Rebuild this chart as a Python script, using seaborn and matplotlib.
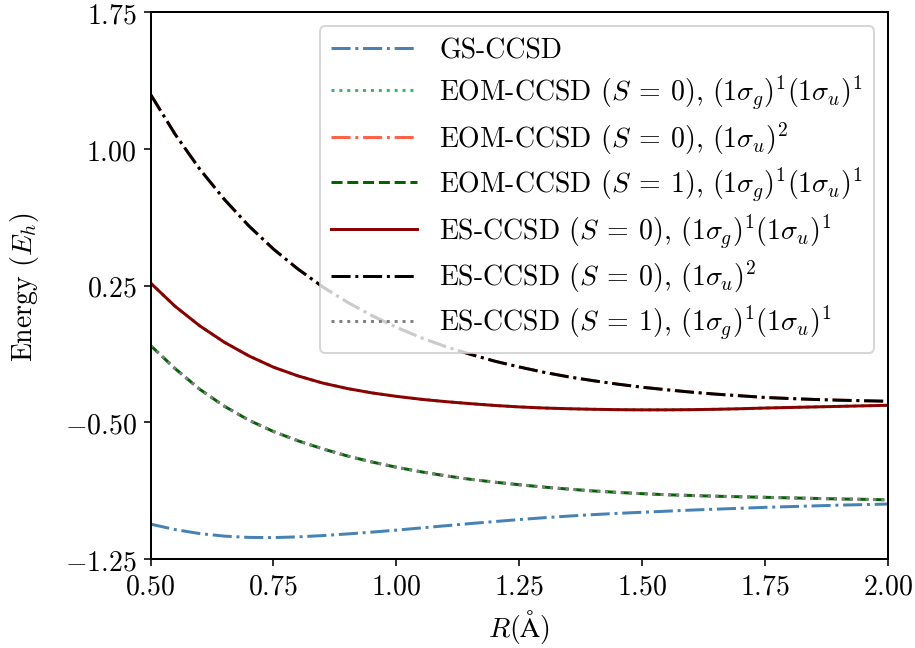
import numpy as np
import pandas as pd
import matplotlib
matplotlib.use("Agg")
import matplotlib.pyplot as plt
import seaborn as sns

# ── Data ──────────────────────────────────────────────────────────────────────
R = [0.50, 0.55, 0.60, 0.65, 0.70, 0.75, 0.80, 0.85, 0.90, 0.95,
     1.00, 1.05, 1.10, 1.15, 1.20, 1.25, 1.30, 1.35, 1.40, 1.45,
     1.50, 1.55, 1.60, 1.65, 1.70, 1.75, 1.80, 1.85, 1.90, 1.95, 2.00]

gs_ccsd = [-1.058, -1.088, -1.110, -1.124, -1.131, -1.132, -1.128, -1.121, -1.112, -1.102,
           -1.091, -1.079, -1.067, -1.055, -1.044, -1.033, -1.023, -1.014, -1.006, -0.999,
           -0.993, -0.987, -0.981, -0.976, -0.971, -0.966, -0.962, -0.958, -0.954, -0.951, -0.948]

es_s0_gu = [0.265, 0.137, 0.030, -0.060, -0.135, -0.197, -0.245, -0.284, -0.314, -0.338,
            -0.357, -0.373, -0.386, -0.397, -0.407, -0.415, -0.421, -0.425, -0.428, -0.430,
            -0.431, -0.431, -0.430, -0.428, -0.425, -0.421, -0.418, -0.415, -0.412, -0.409, -0.406]

es_s0_uu = [1.300, 1.081, 0.890, 0.724, 0.578, 0.451, 0.341, 0.244, 0.160, 0.086,
            0.022, -0.035, -0.084, -0.126, -0.164, -0.196, -0.225, -0.250, -0.271, -0.290,
            -0.307, -0.321, -0.334, -0.345, -0.354, -0.363, -0.369, -0.374, -0.378, -0.381, -0.384]

es_s1_gu = [-0.078, -0.205, -0.318, -0.411, -0.488, -0.550, -0.601, -0.645, -0.684, -0.717,
            -0.746, -0.771, -0.793, -0.812, -0.828, -0.842, -0.855, -0.866, -0.876, -0.884,
            -0.891, -0.897, -0.901, -0.905, -0.908, -0.911, -0.914, -0.917, -0.920, -0.922, -0.925]

# EOM curves lie underneath the ES curves in the picture
eom_s0_gu = list(es_s0_gu)
eom_s0_uu = list(es_s0_uu)
eom_s1_gu = list(es_s1_gu)

LABELS = [
    r"GS-CCSD",
    r"EOM-CCSD ($S\:=\:0$), $(1\sigma_g)^1(1\sigma_u)^1$",
    r"EOM-CCSD ($S\:=\:0$), $(1\sigma_u)^2$",
    r"EOM-CCSD ($S\:=\:1$), $(1\sigma_g)^1(1\sigma_u)^1$",
    r"ES-CCSD ($S\:=\:0$), $(1\sigma_g)^1(1\sigma_u)^1$",
    r"ES-CCSD ($S\:=\:0$), $(1\sigma_u)^2$",
    r"ES-CCSD ($S\:=\:1$), $(1\sigma_g)^1(1\sigma_u)^1$",
]
SERIES = [gs_ccsd, eom_s0_gu, eom_s0_uu, eom_s1_gu, es_s0_gu, es_s0_uu, es_s1_gu]
COLORS = ["steelblue", "mediumseagreen", "tomato", "darkgreen", "darkred", "black", "grey"]
STYLES = ["-.", ":", "-.", "--", "-", "-.", ":"]

# ── Style ─────────────────────────────────────────────────────────────────────
plt.rcParams.update({
    "font.family": "serif",
    "font.serif": ["cmr10", "DejaVu Serif"],
    "mathtext.fontset": "cm",
    "axes.formatter.use_mathtext": True,
    "font.size": 14,
    "axes.linewidth": 1.0,
})

fig = plt.figure(figsize=(6.4, 4.538), dpi=143)
ax = fig.add_axes([0.1645, 0.137, 0.806, 0.8425])

for vals, lab, col, ls in zip(SERIES, LABELS, COLORS, STYLES):
    df = pd.DataFrame({"R": R, "E": vals})
    sns.lineplot(data=df, x="R", y="E", ax=ax, color=col, linestyle=ls,
                 linewidth=1.5, label=lab)

ax.set_xlim(0.5, 2.0)
ax.set_ylim(-1.25, 1.75)
ax.set_xticks([0.5, 0.75, 1.0, 1.25, 1.5, 1.75, 2.0])
ax.set_yticks([-1.25, -0.5, 0.25, 1.0, 1.75])
ax.xaxis.set_major_formatter(matplotlib.ticker.FormatStrFormatter(r"$%.2f$"))
ax.yaxis.set_major_formatter(matplotlib.ticker.FormatStrFormatter(r"$%.2f$"))
ax.set_xlabel(r"$R(\mathrm{\AA})$")
ax.set_ylabel(r"Energy ($E_h$)", labelpad=12)
ax.legend(loc="upper right", fontsize=14, handlelength=3.1, labelspacing=0.33)

plt.savefig("out.png", dpi=143)
